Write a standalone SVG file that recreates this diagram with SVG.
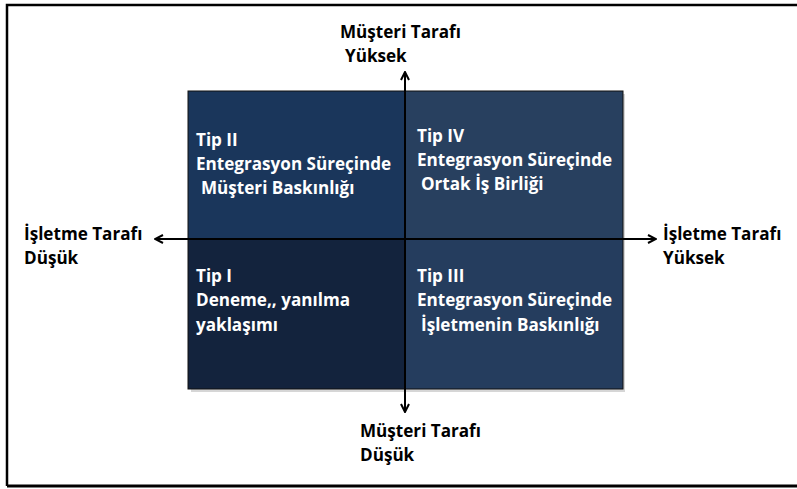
<svg xmlns="http://www.w3.org/2000/svg" width="797" height="489" viewBox="0 0 797 489">
<defs>
<style>
.t{font-family:"Open Sans","Liberation Sans",sans-serif;font-weight:700;font-size:17.1px}
.w{fill:#ffffff}
.k{fill:#000000}
.ax{stroke:#000;stroke-width:2;fill:none}
</style>
<marker id="ah" viewBox="0 0 10 10" refX="9" refY="5" markerWidth="5" markerHeight="5" orient="auto-start-reverse">
<path d="M1,1 L9,5 L1,9" fill="none" stroke="#000" stroke-width="2"/>
</marker>
</defs>
<rect x="0" y="0" width="797" height="489" fill="#fff"/>
<g id="frame">
<path d="M7,486 V5 H797" fill="none" stroke="#000" stroke-width="2.5"/>
<path d="M7,486 H797" fill="none" stroke="#000" stroke-width="3"/>
</g>
<rect x="191" y="94" width="434" height="298" fill="#bbb" opacity="0.6"/>
<g id="q2"><rect x="188" y="91" width="217" height="148" fill="#1a365b" stroke="#111" stroke-width="1"/>
<text class="t w" x="196" y="146">Tip II</text>
<text class="t w" x="196" y="170">Entegrasyon Süreçinde</text>
<text class="t w" x="201" y="194">Müşteri Baskınlığı</text></g>
<g id="q4"><rect x="405" y="91" width="218" height="148" fill="#28405f" stroke="#111" stroke-width="1"/>
<text class="t w" x="417" y="142">Tip IV</text>
<text class="t w" x="417" y="166">Entegrasyon Süreçinde</text>
<text class="t w" x="421" y="190">Ortak İş Birliği</text></g>
<g id="q1"><rect x="188" y="239" width="217" height="150" fill="#13233d" stroke="#111" stroke-width="1"/>
<text class="t w" x="196" y="282">Tip I</text>
<text class="t w" x="196" y="306">Deneme,, yanılma</text>
<text class="t w" x="196" y="331">yaklaşımı</text></g>
<g id="q3"><rect x="405" y="239" width="218" height="150" fill="#253d5e" stroke="#111" stroke-width="1"/>
<text class="t w" x="417" y="282">Tip III</text>
<text class="t w" x="417" y="306">Entegrasyon Süreçinde</text>
<text class="t w" x="421" y="331">İşletmenin Baskınlığı</text></g>
<g id="connectors">
<line class="ax" x1="405" y1="239" x2="405" y2="72" marker-end="url(#ah)"/>
<line class="ax" x1="405" y1="239" x2="405" y2="412" marker-end="url(#ah)"/>
<line class="ax" x1="405" y1="239" x2="155" y2="239" marker-end="url(#ah)"/>
<line class="ax" x1="405" y1="239" x2="656" y2="239" marker-end="url(#ah)"/>
</g>
<g id="labels">
<text class="t k" x="340" y="38">Müşteri Tarafı</text>
<text class="t k" x="345" y="62">Yüksek</text>
<text class="t k" x="24" y="240">İşletme Tarafı</text>
<text class="t k" x="24" y="264">Düşük</text>
<text class="t k" x="663" y="240">İşletme Tarafı</text>
<text class="t k" x="663" y="264">Yüksek</text>
<text class="t k" x="360" y="437">Müşteri Tarafı</text>
<text class="t k" x="360" y="461">Düşük</text>
</g>
</svg>
